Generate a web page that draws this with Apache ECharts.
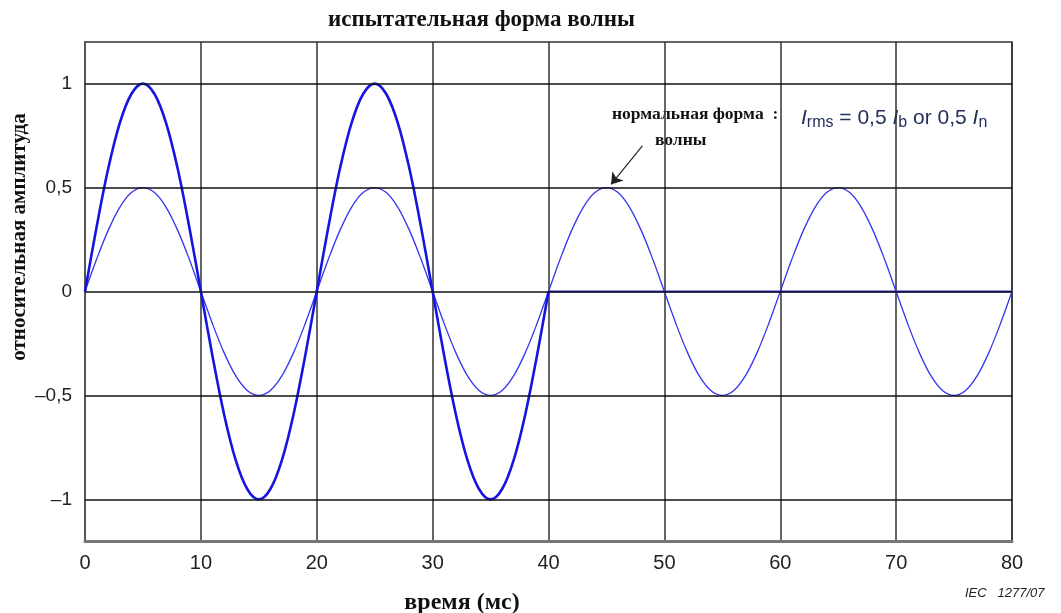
<!DOCTYPE html>
<html>
<head>
<meta charset="utf-8">
<script src="https://cdn.jsdelivr.net/npm/echarts@6/dist/echarts.min.js"></script>
<style>html,body{margin:0;padding:0;background:#fff}#c{width:1061px;height:613px}</style>
</head>
<body>
<div id="c"></div>
<script>
const timeMs = [0,1,2,3,4,5,6,7,8,9,10,11,12,13,14,15,16,17,18,19,20,21,22,23,24,25,26,27,28,29,30,31,32,33,34,35,36,37,38,39,40,41,42,43,44,45,46,47,48,49,50,51,52,53,54,55,56,57,58,59,60,61,62,63,64,65,66,67,68,69,70,71,72,73,74,75,76,77,78,79,80];
const testWave = [0,0.31,0.59,0.81,0.95,1,0.95,0.81,0.59,0.31,0,-0.31,-0.59,-0.81,-0.95,-1,-0.95,-0.81,-0.59,-0.31,0,0.31,0.59,0.81,0.95,1,0.95,0.81,0.59,0.31,0,-0.31,-0.59,-0.81,-0.95,-1,-0.95,-0.81,-0.59,-0.31,0];
const offTimes = [40,80];
const offValues = [0,0];
const normalWave = [0,0.155,0.294,0.405,0.476,0.5,0.476,0.405,0.294,0.155,0,-0.155,-0.294,-0.405,-0.476,-0.5,-0.476,-0.405,-0.294,-0.155,0,0.155,0.294,0.405,0.476,0.5,0.476,0.405,0.294,0.155,0,-0.155,-0.294,-0.405,-0.476,-0.5,-0.476,-0.405,-0.294,-0.155,0,0.155,0.294,0.405,0.476,0.5,0.476,0.405,0.294,0.155,0,-0.155,-0.294,-0.405,-0.476,-0.5,-0.476,-0.405,-0.294,-0.155,0,0.155,0.294,0.405,0.476,0.5,0.476,0.405,0.294,0.155,0,-0.155,-0.294,-0.405,-0.476,-0.5,-0.476,-0.405,-0.294,-0.155,0];
const yTicks = [-1,-0.5,0,0.5,1];
const xTicks = [0,10,20,30,40,50,60,70,80];
const arrowFrom = [48.1,0.70];
const arrowTo = [45.4,0.515];

const chart = echarts.init(document.getElementById('c'));
const pair = (xs, ys) => ys.map((v,i)=>[xs[i], v]);
const fmtY = v => { const s = String(Math.abs(v)).replace('.', ','); return v < 0 ? '\u2013' + s : s; };
const serifBold = sz => 'bold ' + sz + 'px "Liberation Serif", "DejaVu Serif", serif';

chart.setOption({
  animation: false,
  backgroundColor: '#fff',
  grid: {left: 85, right: 49, top: 42, bottom: 72, show: true, borderColor: '#333', borderWidth: 1.5},
  xAxis: {
    type: 'value', min: 0, max: 80, interval: 10,
    axisLine: {show: true, onZero: false, lineStyle: {color: '#777', width: 3}},
    axisTick: {show: false},
    splitLine: {show: true, lineStyle: {color: '#333', width: 1.5}},
    axisLabel: {color: '#222', fontFamily: 'Liberation Sans, Arial', fontSize: 20, margin: 12,
      customValues: xTicks}
  },
  yAxis: {
    type: 'value', min: -1.2, max: 1.2,
    axisLine: {show: true, onZero: false, lineStyle: {color: '#555', width: 2}},
    axisTick: {show: false, customValues: yTicks},
    splitLine: {show: false},
    axisLabel: {color: '#222', fontFamily: 'Liberation Sans, Arial', fontSize: 19, margin: 13,
      customValues: yTicks, formatter: fmtY}
  },
  graphic: [
    {type: 'text', x: 328, y: 20, style: {text: 'испытательная форма волны', font: serifBold(23), fill: '#111', verticalAlign: 'middle'}},
    {type: 'text', x: 462, y: 603, style: {text: 'время (мс)', font: serifBold(24), fill: '#111', align: 'center', verticalAlign: 'middle'}},
    {type: 'text', x: 20, y: 237, rotation: Math.PI/2, style: {text: 'относительная амплитуда', font: serifBold(21), fill: '#111', align: 'center', verticalAlign: 'middle'}},
    {type: 'text', x: 965, y: 593, style: {text: 'IEC   1277/07', font: 'italic 13px "Liberation Sans", Arial, sans-serif', fill: '#222', verticalAlign: 'middle'}},
    {type: 'text', x: 612, y: 114, style: {text: 'нормальная форма  :', font: serifBold(17.5), fill: '#111', verticalAlign: 'middle'}},
    {type: 'text', x: 655, y: 140, style: {text: 'волны', font: serifBold(17.5), fill: '#111', verticalAlign: 'middle'}},
    {type: 'text', x: 801, y: 118, style: {
      verticalAlign: 'middle',
      rich: {
        i: {font: 'italic 21px "Liberation Sans", Arial, sans-serif', fill: '#22305a'},
        t: {font: '21px "Liberation Sans", Arial, sans-serif', fill: '#22305a'},
        s: {font: '16px "Liberation Sans", Arial, sans-serif', fill: '#22305a', padding: [9,0,0,0]}
      },
      text: '{i|I}{s|rms}{t| = 0,5 }{i|I}{s|b}{t| or 0,5 }{i|I}{s|n}'
    }}
  ],
  series: [
    {
      type: 'line', data: pair(timeMs, normalWave), smooth: 0.35, showSymbol: false,
      lineStyle: {color: '#3535f0', width: 1.3}, z: 3,
      markLine: {
        silent: true, symbol: 'none', label: {show: false},
        lineStyle: {color: '#111', width: 1.5, type: 'solid'},
        data: yTicks.map(v => ({yAxis: v}))
      }
    },
    {
      type: 'line', data: pair(timeMs, testWave), smooth: 0.35, showSymbol: false,
      lineStyle: {color: '#1515e0', width: 2.6}, z: 4
    },
    {
      type: 'line', data: pair(offTimes, offValues), showSymbol: false,
      lineStyle: {color: '#2a2ae8', width: 2}, z: 4,
      markLine: {
        silent: true, symbol: ['none', 'arrow'], symbolSize: 11, label: {show: false},
        lineStyle: {color: '#222', width: 1.2, type: 'solid'},
        itemStyle: {color: '#222'},
        data: [[{coord: arrowFrom}, {coord: arrowTo}]]
      }
    }
  ]
});
</script>
</body>
</html>
